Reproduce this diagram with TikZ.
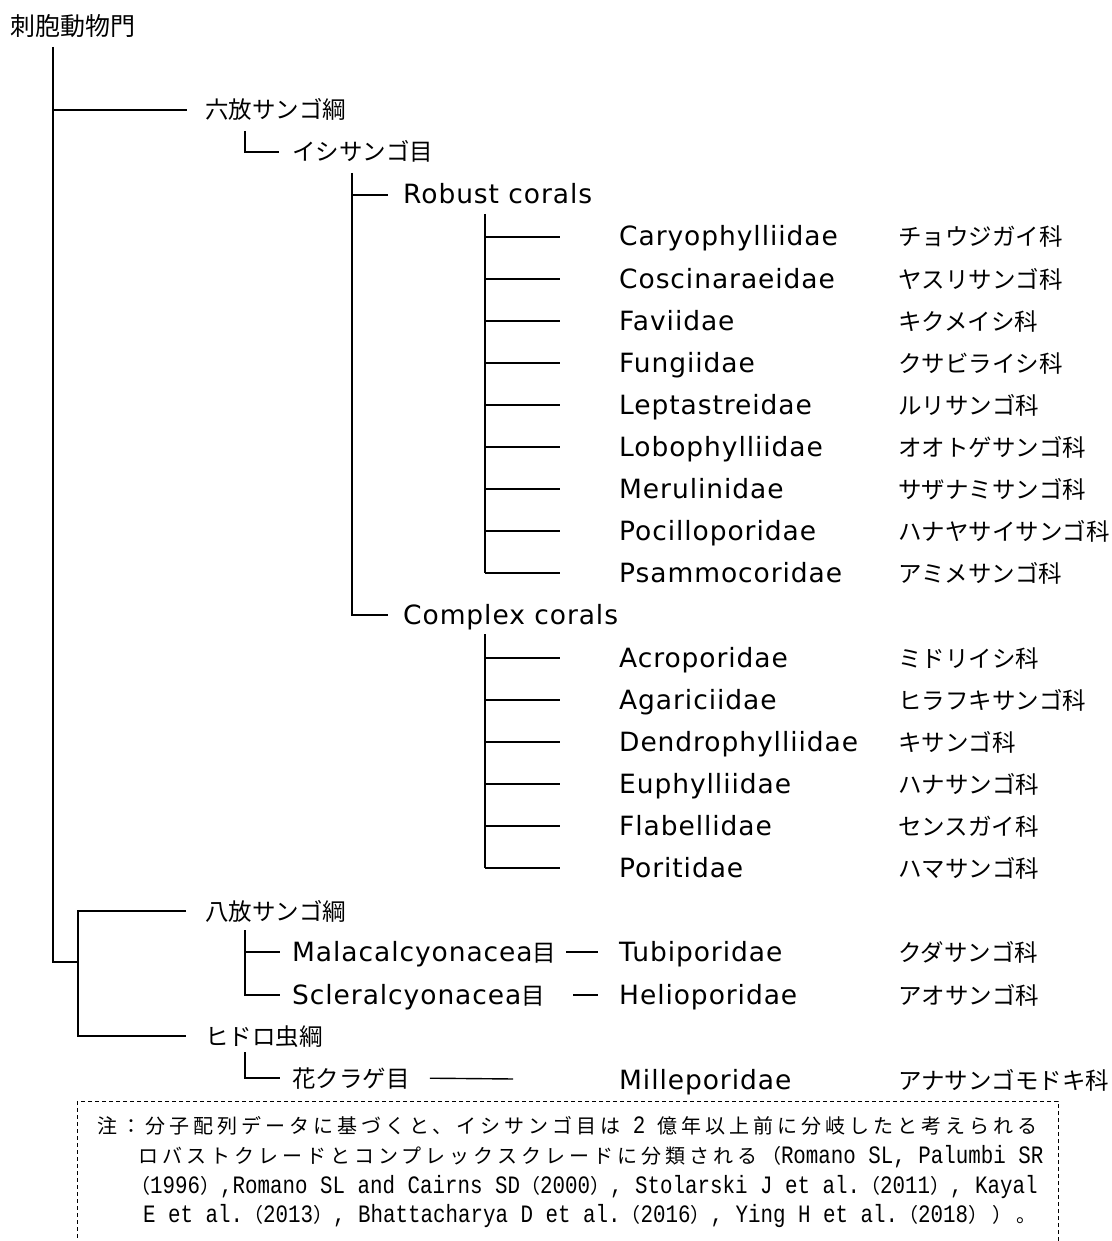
\documentclass[tikz,border=0pt]{standalone}
\usepackage{fontspec}
\setmainfont{DejaVu Sans}
\newfontfamily\latfont{DejaVu Sans}[LetterSpace=3.5]
\newfontfamily\jpfont{Noto Sans CJK JP}
\newfontfamily\notejp{Noto Sans CJK JP}[LetterSpace=20]
\newfontfamily\notelat{Liberation Mono}[FakeStretch=0.833]
\newcommand\jpt[1]{{\jpfont\fontsize{23.5}{28}\selectfont #1}}
\newcommand\noteJ[1]{{\notejp\fontsize{20}{24}\selectfont #1}}
\newcommand\noteL[1]{{\notelat\fontsize{25}{24}\selectfont #1}}
\begin{document}
\begin{tikzpicture}[x=1pt,y=-1pt,
  tree/.style={line width=1.4pt},
  lbl/.style={anchor=west,inner sep=0pt,text height=18pt,text depth=0pt},
  latin/.style={lbl,font=\latfont\fontsize{26.5}{30}\selectfont},
  kana/.style={lbl,font=\jpfont\fontsize{23.5}{28}\selectfont},
  noteline/.style={anchor=west,inner sep=0pt,text height=16pt,text depth=0pt},
  notebox/.style={line width=0.9pt,dash pattern=on 4pt off 3pt}]
\useasboundingbox (0,0) rectangle (1111,1241);
\fill[white] (0,0) rectangle (1111,1241);

% phylum and classes
\node[kana,font=\jpfont\fontsize{25}{30}\selectfont] (root) at (10,27) {刺胞動物門};
\node[kana] (hexa) at (205,110) {六放サンゴ綱};
\node[kana] (stony) at (292,152) {イシサンゴ目};
\node[latin] (robust) at (403,195) {Robust corals};
\node[latin] (complex) at (403,615) {Complex corals};
\node[kana] (octo) at (205,911) {八放サンゴ綱};
\node[latin] (mala) at (292,952) {Malacalcyonacea\jpt{目}};
\node[latin] (scler) at (292,995) {Scleralcyonacea\jpt{目}};
\node[kana] (hydro) at (205,1036) {ヒドロ虫綱};
\node[kana] (antho) at (292,1078) {花クラゲ目};

% trunk coordinates
\coordinate (rootbase) at (53,47);
\coordinate (subjoin) at (78,962);
\coordinate (stonytop) at (245,131);
\coordinate (robtop) at (352,173);
\coordinate (rfamtop) at (485,214);
\coordinate (cfamtop) at (485,634);
\coordinate (octotop) at (245,930);
\coordinate (anthotop) at (245,1052);

% phylum trunk and class branches
\draw[tree] (rootbase) |- (subjoin);
\draw[tree] (rootbase |- hexa.west) -- ([xshift=-18pt]hexa.west);
\draw[tree] ([xshift=-19pt]octo.west) -| (subjoin) |- ([xshift=-19pt]hydro.west);

% Scleractinia and its two clades
\draw[tree] (stonytop) |- ([xshift=-13pt]stony.west);
\draw[tree] (robtop) |- ([xshift=-15pt]complex.west);
\draw[tree] (robtop |- robust.west) -- ([xshift=-15pt]robust.west);

% robust coral families
\foreach \fam/\kan [count=\k from 0] in {
  Caryophylliidae/チョウジガイ科, Coscinaraeidae/ヤスリサンゴ科,
  Faviidae/キクメイシ科, Fungiidae/クサビライシ科,
  Leptastreidae/ルリサンゴ科, Lobophylliidae/オオトゲサンゴ科,
  Merulinidae/サザナミサンゴ科, Pocilloporidae/ハナヤサイサンゴ科,
  Psammocoridae/アミメサンゴ科}{
  \node[latin] (r\k) at (619,237+42*\k) {\fam};
  \node[kana] (rj\k) at (898,237+42*\k) {\kan};
  \draw[tree] (rfamtop |- r\k.west) -- ([xshift=-59pt]r\k.west);
}
\draw[tree] (rfamtop) -- (rfamtop |- r8.west);

% complex coral families
\foreach \fam/\kan [count=\k from 0] in {
  Acroporidae/ミドリイシ科, Agariciidae/ヒラフキサンゴ科,
  Dendrophylliidae/キサンゴ科, Euphylliidae/ハナサンゴ科,
  Flabellidae/センスガイ科, Poritidae/ハマサンゴ科}{
  \node[latin] (c\k) at (619,658+42*\k) {\fam};
  \node[kana] (cj\k) at (898,658+42*\k) {\kan};
  \draw[tree] (cfamtop |- c\k.west) -- ([xshift=-59pt]c\k.west);
}
\draw[tree] (cfamtop) -- (cfamtop |- c5.west);

% octocorals
\node[latin] (tubi) at (619,952) {Tubiporidae};
\node[kana] (tubij) at (898,952) {クダサンゴ科};
\node[latin] (helio) at (619,995) {Helioporidae};
\node[kana] (helioj) at (898,995) {アオサンゴ科};
\draw[tree] (octotop) |- ([xshift=-12pt]scler.west);
\draw[tree] (octotop |- mala.west) -- ([xshift=-12pt]mala.west);
\draw[tree,shorten <=10pt,shorten >=21pt] (mala.east) -- (tubi.west);
\draw[tree,shorten <=28pt,shorten >=21pt] (scler.east) -- (helio.west);

% hydrozoans
\node[latin] (mille) at (619,1080) {Milleporidae};
\node[kana] (millej) at (898,1080) {アナサンゴモドキ科};
\draw[tree] (anthotop) |- ([xshift=-12pt]antho.west);
\draw[tree,shorten <=20pt,shorten >=106pt] (antho.east) -- (mille.west);

% note
\draw[notebox] (77,1101) rectangle (1058,1265);
\node[noteline] (n1) at (97,1125) {\noteJ{注：分子配列データに基づくと、イシサンゴ目は}\noteL{\ 2\ }\noteJ{億年以上前に分岐したと考えられる}};
\node[noteline] (n2) at (138,1155) {\noteJ{ロバストクレードとコンプレックスクレードに分類される（}\noteL{Romano SL, Palumbi SR}};
\node[noteline] (n3) at (130,1185) {\noteJ{（}\noteL{1996}\noteJ{）}\noteL{,Romano SL and Cairns SD}\noteJ{（}\noteL{2000}\noteJ{）}\noteL{, Stolarski J et al.}\noteJ{（}\noteL{2011}\noteJ{）}\noteL{, Kayal}};
\node[noteline] (n4) at (143,1214) {\noteL{E et al.}\noteJ{（}\noteL{2013}\noteJ{）}\noteL{, Bhattacharya D et al.}\noteJ{（}\noteL{2016}\noteJ{）}\noteL{, Ying H et al.}\noteJ{（}\noteL{2018}\noteJ{））。}};
\end{tikzpicture}
\end{document}
